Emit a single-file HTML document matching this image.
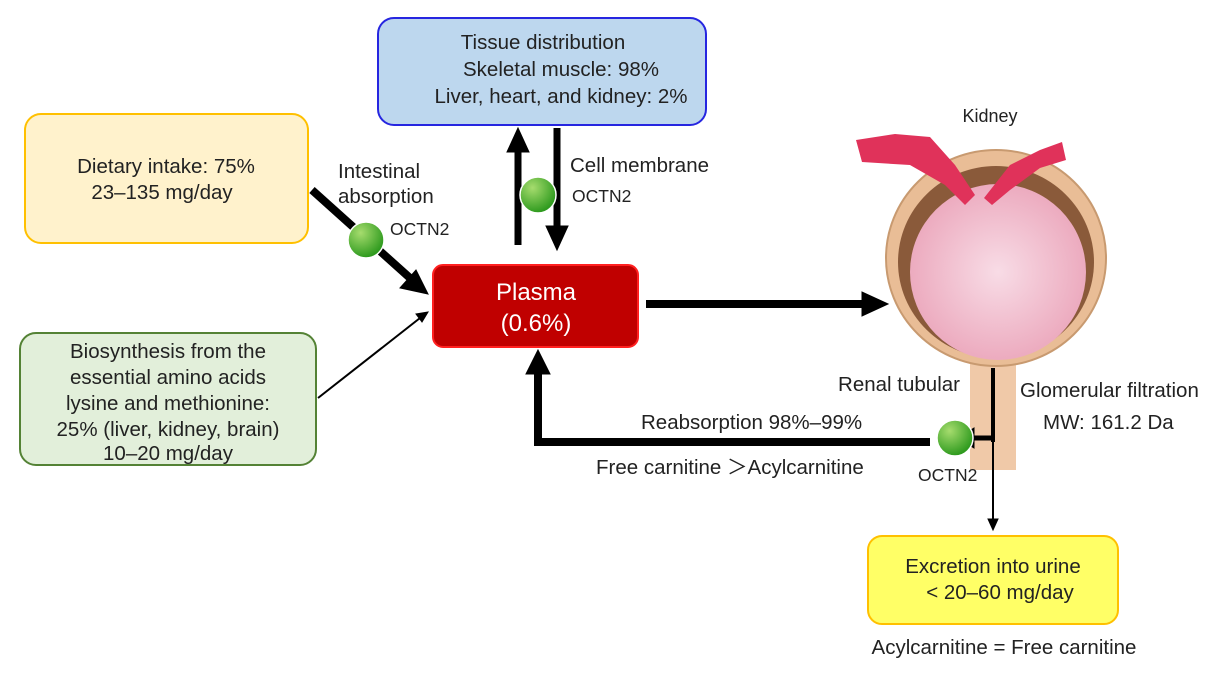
<!DOCTYPE html>
<html><head><meta charset="utf-8"><style>
body{margin:0;background:#fff}
svg text{font-family:"Liberation Sans",sans-serif;fill:#222}
</style></head><body>
<svg width="1218" height="674" viewBox="0 0 1218 674" xmlns="http://www.w3.org/2000/svg">
<defs>
<radialGradient id="g" cx="35%" cy="30%" r="70%"><stop offset="0" stop-color="#a6dc6e"/><stop offset="1" stop-color="#2e9a1e"/></radialGradient>
<radialGradient id="k" cx="50%" cy="50%" r="55%"><stop offset="0" stop-color="#f8dce6"/><stop offset="1" stop-color="#eba6bb"/></radialGradient>
</defs>
<!-- boxes -->
<rect x="378" y="18" width="328" height="107" rx="16" fill="#bdd7ee" stroke="#2626e0" stroke-width="2"/>
<text x="543" y="49" font-size="20.5" text-anchor="middle">Tissue distribution</text>
<text x="561" y="76" font-size="20.5" text-anchor="middle">Skeletal muscle: 98%</text>
<text x="561" y="103" font-size="20.5" text-anchor="middle">Liver, heart, and kidney: 2%</text>

<rect x="25" y="114" width="283" height="129" rx="16" fill="#fff2cc" stroke="#ffc000" stroke-width="2"/>
<text x="166" y="173" font-size="20.5" text-anchor="middle">Dietary intake: 75%</text>
<text x="162" y="199" font-size="20.5" text-anchor="middle">23–135 mg/day</text>

<rect x="20" y="333" width="296" height="132" rx="16" fill="#e2efda" stroke="#548235" stroke-width="2"/>
<text x="168" y="358" font-size="20.5" text-anchor="middle">Biosynthesis from the</text>
<text x="168" y="384" font-size="20.5" text-anchor="middle">essential amino acids</text>
<text x="168" y="410" font-size="20.5" text-anchor="middle">lysine and methionine:</text>
<text x="168" y="436" font-size="20.5" text-anchor="middle">25% (liver, kidney, brain)</text>
<text x="168" y="460" font-size="20.5" text-anchor="middle">10–20 mg/day</text>

<rect x="433" y="265" width="205" height="82" rx="10" fill="#c00000" stroke="#ff2020" stroke-width="2"/>
<text x="536" y="300" font-size="24" text-anchor="middle" style="fill:#fff">Plasma</text>
<text x="536" y="331" font-size="24" text-anchor="middle" style="fill:#fff">(0.6%)</text>

<rect x="868" y="536" width="250" height="88" rx="14" fill="#ffff66" stroke="#ffc000" stroke-width="2"/>
<text x="993" y="573" font-size="20.5" text-anchor="middle">Excretion into urine</text>
<text x="1000" y="599" font-size="20.5" text-anchor="middle">&lt; 20–60 mg/day</text>
<text x="1004" y="654" font-size="20.5" text-anchor="middle">Acylcarnitine = Free carnitine</text>

<!-- kidney -->
<rect x="970" y="350" width="46" height="120" fill="#f0c9a8"/>
<ellipse cx="996" cy="258" rx="110" ry="108" fill="#e9bd96" stroke="#c89a70" stroke-width="2"/>
<ellipse cx="996" cy="262" rx="98" ry="96" fill="#8a5a3a"/>
<ellipse cx="998" cy="272" rx="88" ry="88" fill="url(#k)"/>
<path d="M856 140 L895 134 L930 137 L955 165 L975 195 L965 205 L945 185 L910 165 L862 162 Z" fill="#e0325a"/>
<path d="M1062 142 L1066 160 L1040 168 L1010 190 L992 205 L984 198 L1010 165 L1040 150 Z" fill="#e0325a"/>
<text x="990" y="122" font-size="18" text-anchor="middle">Kidney</text>

<!-- arrows -->
<g fill="#000" stroke="#000">
<line x1="312" y1="190" x2="410" y2="278" stroke-width="8"/>
<polygon points="428,294 400,288 416,270"/>
<line x1="318" y1="398" x2="420" y2="318" stroke-width="2"/>
<polygon points="428,312 416,314 422,322" />
<line x1="518" y1="245" x2="518" y2="150" stroke-width="7"/>
<polygon points="518,128 507,152 529,152"/>
<line x1="557" y1="128" x2="557" y2="230" stroke-width="7"/>
<polygon points="557,250 546,226 568,226"/>
<line x1="646" y1="304" x2="866" y2="304" stroke-width="8"/>
<polygon points="888,304 862,292 862,316"/>
<line x1="930" y1="442" x2="538" y2="442" stroke-width="8"/>
<line x1="538" y1="446" x2="538" y2="372" stroke-width="8"/>
<polygon points="538,350 526,374 550,374"/>
<line x1="993" y1="368" x2="993" y2="442" stroke-width="4"/>
<line x1="993" y1="442" x2="993" y2="520" stroke-width="2"/>
<polygon points="993,530 988,519 998,519"/>
<line x1="993" y1="438" x2="970" y2="438" stroke-width="5"/>
<polygon points="958,438 974,428 974,448"/>
</g>
<circle cx="366" cy="240" r="18" fill="url(#g)" stroke="#fff" stroke-width="1.5"/>
<circle cx="538" cy="195" r="18" fill="url(#g)" stroke="#fff" stroke-width="1.5"/>
<circle cx="955" cy="438" r="18" fill="url(#g)" stroke="#fff" stroke-width="1.5"/>

<text x="338" y="178" font-size="20.5">Intestinal</text>
<text x="338" y="203" font-size="20.5">absorption</text>
<text x="390" y="235" font-size="17.5">OCTN2</text>
<text x="570" y="172" font-size="20.5">Cell membrane</text>
<text x="572" y="202" font-size="17.5">OCTN2</text>
<text x="960" y="391" font-size="20.5" text-anchor="end">Renal tubular</text>
<text x="1020" y="397" font-size="20.5">Glomerular filtration</text>
<text x="1043" y="429" font-size="20.5">MW: 161.2 Da</text>
<text x="641" y="429" font-size="20.5">Reabsorption 98%–99%</text>
<text x="596" y="474" font-size="20.5">Free carnitine ＞Acylcarnitine</text>
<text x="918" y="481" font-size="17.5">OCTN2</text>
</svg>
</body></html>
